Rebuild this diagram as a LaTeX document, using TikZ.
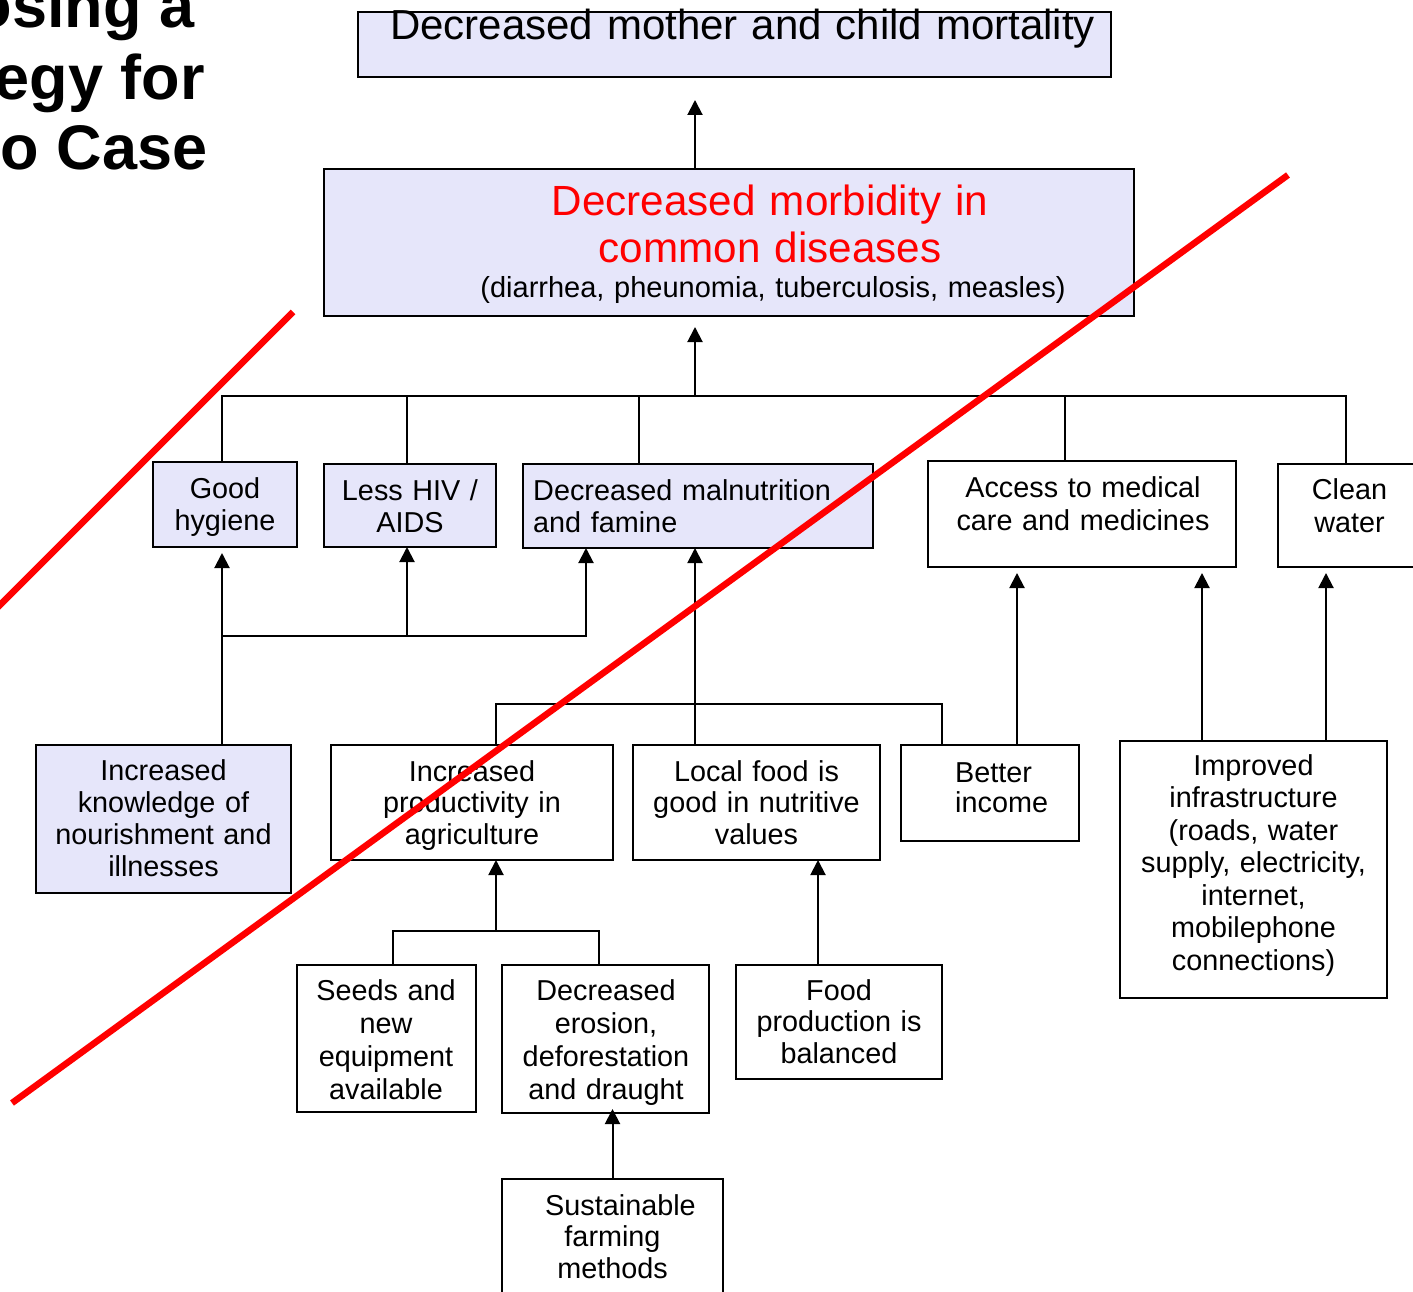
\documentclass[tikz,border=0pt]{standalone}
\usepackage{fontspec}
\setmainfont{Liberation Sans}
\usetikzlibrary{arrows.meta}
\definecolor{lav}{RGB}{230,230,250}
\definecolor{strikered}{RGB}{255,0,0}
\newcommand{\fsz}[2]{\fontsize{#1}{#2}\selectfont}

\begin{document}
\begin{tikzpicture}[x=1pt,y=-1pt,
  box/.style={draw=black, line width=2pt, rectangle, inner sep=0pt, outer sep=0pt, anchor=north west},
  lavbox/.style={box, fill=lav},
  whitebox/.style={box, fill=white},
  lbl/.style={inner sep=0pt, text width=1000pt, align=center, anchor=base, font=\fsz{28.8}{32}},
  lbll/.style={inner sep=0pt, text width=420pt, align=left, anchor=base west, font=\fsz{28.8}{32}},
  conn/.style={line width=2pt},
  arr/.style={conn, -{Triangle[width=15pt,length=15pt]}},
  cross/.style={line width=6.5pt, draw=strikered},
  heading/.style={inner sep=0pt, anchor=base east, font=\bfseries\fsz{63}{71}}
]
\useasboundingbox (0,0) rectangle (1413,1292);
\clip (0,0) rectangle (1413,1292);

% heading fragment on the left
\node[heading] (h1) at (194.5,28) {osing a};
\node[heading] (h2) at (205,100) {egy for};
\node[heading] (h3) at (207.5,170) {o Case};

% boxes
\node[lavbox, minimum width=753pt, minimum height=65pt] (topbox) at (358,12) {};
\node[lavbox, minimum width=810pt, minimum height=147pt] (morb) at (324,169) {};
\node[lavbox, minimum width=144pt, minimum height=85pt] (hyg) at (153,462) {};
\node[lavbox, minimum width=172pt, minimum height=83pt] (hiv) at (324,464) {};
\node[lavbox, minimum width=350pt, minimum height=84pt] (mal) at (523,464) {};
\node[whitebox, minimum width=308pt, minimum height=106pt] (acc) at (928,461) {};
\node[whitebox, minimum width=143pt, minimum height=103pt] (cw) at (1278,464) {};
\node[lavbox, minimum width=255pt, minimum height=148pt] (kn) at (36,745) {};
\node[whitebox, minimum width=282pt, minimum height=115pt] (prod) at (331,745) {};
\node[whitebox, minimum width=247pt, minimum height=115pt] (loc) at (633,745) {};
\node[whitebox, minimum width=178pt, minimum height=96pt] (inc) at (901,745) {};
\node[whitebox, minimum width=267pt, minimum height=257pt] (infra) at (1120,741) {};
\node[whitebox, minimum width=179pt, minimum height=147pt] (seeds) at (297,965) {};
\node[whitebox, minimum width=207pt, minimum height=148pt] (ero) at (502,965) {};
\node[whitebox, minimum width=206pt, minimum height=114pt] (food) at (736,965) {};
\node[whitebox, minimum width=221pt, minimum height=130pt] (sust) at (502,1179) {};

% box texts
\node[lbl, font=\fsz{42}{47}] (tTop) at (742.5,40) {Decreased mother and child mortality};
\node[lbl, font=\fsz{42.2}{47}, text=strikered] (tMorb) at (770,215) {Decreased morbidity in\\common diseases};
\node[lbl, font=\fsz{29}{32}] (tMorb2) at (773,297) {(diarrhea, pheunomia, tuberculosis, measles)};
\node[lbl] (tHyg) at (225,498) {Good\\hygiene};
\node[lbl] (tHiv) at (410,500) {Less HIV /\\AIDS};
\node[lbll] (tMal) at (533,500) {Decreased malnutrition\\and famine};
\node[lbl, font=\fsz{28.8}{33}] (tAcc) at (1083,497) {Access to medical\\care and medicines};
\node[lbl, font=\fsz{28.8}{33}] (tCw) at (1349.5,499) {Clean\\water};
\node[lbl, font=\fsz{28.8}{32.3}] (tKn) at (163.5,780) {Increased\\knowledge of\\nourishment and\\illnesses};
\node[lbl, font=\fsz{28.8}{31.5}] (tProd) at (472,781) {Increased\\productivity in\\agriculture};
\node[lbl, font=\fsz{28.8}{31.5}] (tLoc) at (756.5,781) {Local food is\\good in nutritive\\values};
\node[lbll, font=\fsz{28.8}{30.5}] (tInc) at (955,782) {Better\\income};
\node[lbl, font=\fsz{28.8}{32.5}] (tInfra) at (1253.5,775) {Improved\\infrastructure\\(roads, water\\supply, electricity,\\internet,\\mobilephone\\connections)};
\node[lbl, font=\fsz{28.8}{33}] (tSeeds) at (386,1000) {Seeds and\\new\\equipment\\available};
\node[lbl, font=\fsz{28.8}{33.3}] (tEro) at (606,1000) {Decreased\\erosion,\\deforestation\\and draught};
\node[lbl, font=\fsz{28.8}{31.5}] (tFood) at (839,1000) {Food\\production is\\balanced};
\node[lbl, font=\fsz{28.8}{31.5}] (tSust) at (612.5,1215) {\hspace*{16pt}Sustainable\\farming\\methods};

% junction points
\coordinate (bus) at (695,396);
\coordinate (j2) at (222,636);
\coordinate (j3) at (695,704);
\coordinate (j4) at (496,931);

% connectors, top part
\draw[arr] ([xshift=-34pt]morb.north) -- ([xshift=-39.5pt,yshift=-23pt]topbox.south);
\draw[arr] (bus) -- ([xshift=-34pt,yshift=-11pt]morb.south);
\draw[conn] ([xshift=-3pt]hyg.north) |- ([xshift=-3.5pt]cw.north |- bus) -- ([xshift=-3.5pt]cw.north);
\draw[conn] ([xshift=-3pt]hiv.north) -- ([xshift=-3pt]hiv.north |- bus);
\draw[conn] ([xshift=-59pt]mal.north) -- ([xshift=-59pt]mal.north |- bus);
\draw[conn] ([xshift=-17pt]acc.north) -- ([xshift=-17pt]acc.north |- bus);

% connectors, left part
\draw[arr] ([xshift=58.5pt]kn.north) -- ([xshift=-3pt,yshift=-6pt]hyg.south);
\draw[arr] (j2) -| ([xshift=-3pt]hiv.south);
\draw[arr] (j2) -| ([xshift=-112pt]mal.south);

% connectors, middle part
\draw[arr] ([xshift=-61.5pt]loc.north) -- ([xshift=-3pt]mal.south);
\draw[conn] ([xshift=24pt]prod.north) |- ([xshift=-48pt]inc.north |- j3) -- ([xshift=-48pt]inc.north);

% connectors, right part
\draw[arr] ([xshift=27pt]inc.north) -- ([xshift=-65pt,yshift=-6pt]acc.south);
\draw[arr] ([xshift=-51.5pt]infra.north) -- ([xshift=120pt,yshift=-6pt]acc.south);
\draw[arr] ([xshift=72.5pt]infra.north) -- ([xshift=-23.5pt,yshift=-6pt]cw.south);

% connectors, bottom part
\draw[arr] (j4) -- ([xshift=24pt]prod.south);
\draw[conn] ([xshift=6.5pt]seeds.north) |- ([xshift=-6.5pt]ero.north |- j4) -- ([xshift=-6.5pt]ero.north);
\draw[arr] ([xshift=-21pt]food.north) -- ([xshift=61.5pt]loc.south);
\draw[arr] (sust.north) -- ([xshift=7pt,yshift=4pt]ero.south);

% red strike lines
\draw[cross] (293,312) -- (-20,625);
\draw[cross] (1288,175) -- (12,1103);
\end{tikzpicture}
\end{document}
